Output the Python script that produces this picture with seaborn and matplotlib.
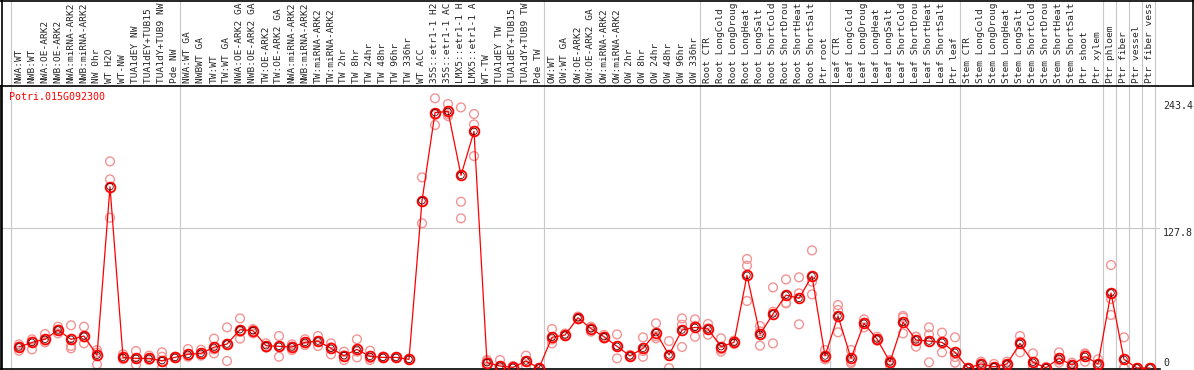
import numpy as np
import pandas as pd
import seaborn as sns
import matplotlib.pyplot as plt
from matplotlib.lines import Line2D

# sample names, left to right
categories = [
    "NWA:WT", "NWB:WT", "NWA:OE-ARK2", "NWB:OE-ARK2", "NWA:miRNA-ARK2", "NWB:miRNA-ARK2",
    "NW 0hr", "WT H2O", "WT-NW", "TUA1dEY NW", "TUA1dEY+TUB15 NW", "TUA1dY+TUB9 NW", "Pde NW",
    "NWA:WT GA", "NWBWT GA", "TW:WT", "TW:WT GA", "NWA:OE-ARK2 GA", "NWB:OE-ARK2 GA",
    "TW:OE-ARK2", "TW:OE-ARK2 GA", "NWA:miRNA-ARK2", "NWB:miRNA-ARK2", "TW:miRNA-ARK2", "TW:miRNA-ARK2",
    "TW 2hr", "TW 8hr", "TW 24hr", "TW 48hr", "TW 96hr", "TW 336hr", "WT ACC",
    "35S::etr1-1 H2O", "35S::etr1-1 ACC", "LMX5::etr1-1 H2O", "LMX5::etr1-1 ACC",
    "WT-TW", "TUA1dEY TW", "TUA1dEY+TUB15 TW", "TUA1dY+TUB9 TW", "Pde TW",
    "OW:WT", "OW:WT GA", "OW:OE-ARK2", "OW:OE-ARK2 GA", "OW:miRNA-ARK2", "OW:miRNA-ARK2",
    "OW 2hr", "OW 8hr", "OW 24hr", "OW 48hr", "OW 96hr", "OW 336hr",
    "Root CTR", "Root LongCold", "Root LongDrought", "Root LongHeat", "Root LongSalt",
    "Root ShortCold", "Root ShortDrought", "Root ShortHeat", "Root ShortSalt", "Ptr root",
    "Leaf CTR", "Leaf LongCold", "Leaf LongDrought", "Leaf LongHeat", "Leaf LongSalt",
    "Leaf ShortCold", "Leaf ShortDrought", "Leaf ShortHeat", "Leaf ShortSalt", "Ptr leaf",
    "Stem CTR", "Stem LongCold", "Stem LongDrought", "Stem LongHeat", "Stem LongSalt",
    "Stem ShortCold", "Stem ShortDrought", "Stem ShortHeat", "Stem ShortSalt", "Ptr shoot",
    "Ptr xylem", "Ptr phloem", "Ptr fiber", "Ptr vessel", "Ptr fiber vessel",
]

# mean expression per sample
means = [
    19.2, 23.4, 26.2, 34.7, 26.2, 29.2, 11.6, 165.5, 9.7, 8.8, 8.8, 6.7, 9.7,
    12.5, 13.4, 18.9, 21.9, 35.0, 34.1, 20.4, 19.8, 19.2, 23.4, 24.6, 18.0,
    11.3, 17.0, 10.6, 9.7, 9.7, 7.9, 152.7, 233.1, 234.3, 175.9, 216.0,
    4.9, 1.8, 0.6, 6.4, 0.0,
    28.0, 30.1, 45.9, 35.9, 28.6, 19.8, 11.0, 18.0, 32.3, 11.9, 34.7, 37.1,
    35.6, 19.5, 23.4, 84.6, 30.7, 49.3, 66.6, 63.6, 84.0, 11.0,
    47.5, 8.8, 40.8, 26.5, 5.5, 41.7, 25.6, 24.6, 23.4, 14.3,
    0.0, 3.7, 1.2, 3.7, 22.5, 5.2, 0.3, 8.8, 2.7, 10.6, 3.7,
    68.5, 7.9, 0.0, 0.0,
]

# individual replicates
rep_a = [
    21.6, 26.2, 31.0, 37.7, 39.0, 37.7, 16.4, 188.6, 12.5, 15.5, 11.3, 14.3, 10.3,
    17.3, 16.7, 26.8, 37.1, 45.3, 34.7, 22.5, 29.2, 21.6, 26.2, 29.2, 22.5,
    14.9, 26.2, 15.8, 10.5, 10.0, 8.5, 174.0, 246.2, 241.0, 237.9, 231.9,
    7.3, 7.3, 1.8, 11.3, 0.0,
    35.6, 31.5, 47.0, 37.7, 30.2, 30.7, 12.0, 28.0, 40.8, 24.6, 45.3, 44.4,
    40.2, 27.1, 25.0, 99.5, 38.3, 73.6, 80.9, 82.8, 107.4, 16.4,
    57.5, 16.4, 44.4, 28.5, 7.3, 47.5, 28.6, 37.1, 32.3, 28.0,
    0.0, 5.8, 3.7, 5.8, 29.2, 13.4, 1.0, 14.3, 4.9, 13.4, 7.9,
    94.0, 28.0, 0.0, 0.0,
]
rep_b = [
    15.8, 17.0, 23.4, 31.6, 20.1, 22.5, 3.3, 172.2, 8.8, 3.0, 7.3, 10.3, 9.5,
    10.3, 11.3, 13.4, 6.4, 26.8, 31.6, 18.6, 10.3, 16.4, 21.0, 20.1, 12.5,
    7.3, 9.7, 7.3, 9.0, 9.3, 7.5, 132.1, 221.8, 230.0, 151.8, 222.4,
    1.2, 0.0, 0.0, 1.8, 0.0,
    22.5, 29.0, 44.5, 33.2, 27.0, 8.8, 10.3, 10.3, 27.1, 0.0, 19.2, 28.6,
    30.4, 14.9, 22.0, 93.4, 20.4, 51.4, 59.6, 68.2, 78.8, 7.9,
    52.9, 5.8, 37.1, 25.0, 2.4, 31.6, 19.5, 30.7, 14.3, 4.9,
    0.0, 1.2, 0.0, 2.0, 14.3, 0.0, 0.0, 4.9, 0.0, 5.8, 0.0,
    63.0, 0.0, 0.0, 0.0,
]
rep_c = [
    19.5, 24.0, 25.0, 35.0, 18.0, 28.0, 14.0, 137.2, 8.0, 8.5, 8.0, 0.0, 9.0,
    11.0, 12.5, 17.0, 22.0, 33.0, 35.5, 20.0, 19.5, 19.5, 23.0, 24.5, 19.0,
    11.5, 15.0, 9.0, 9.5, 9.7, 7.8, 151.8, 231.0, 232.0, 136.6, 193.5,
    6.0, 0.0, 0.0, 6.0, 0.0,
    26.0, 30.0, 46.0, 36.5, 28.5, 20.0, 10.7, 15.5, 29.0, 11.0, 39.5, 38.5,
    36.0, 17.0, 23.2, 61.2, 33.5, 22.5, 59.0, 39.9, 67.2, 9.0,
    32.6, 4.5, 41.0, 26.0, 6.5, 46.0, 28.5, 5.2, 23.5, 10.0,
    0.0, 4.0, 0.0, 3.3, 24.0, 2.0, 0.0, 7.0, 3.0, 12.5, 3.0,
    48.4, 0.0, 0.0, 0.0,
]

# index of the first sample of each block (last = end)
group_starts = [0, 13, 41, 53, 63, 73, 84, 85, 86, 87, 88]
y_marks = [0, 127.8, 243.4]
gene = "Potri.015G092300"

sns.set_style("white")
plt.rcParams['font.family'] = ['DejaVu Sans Mono', 'DejaVu Sans']
FS = 6.8

W, H = 1194, 370
fig = plt.figure(figsize=(W / 100, H / 100), dpi=100)
ax = fig.add_axes([1 / W, 1 / H, 1159 / W, 283.5 / H])

n = len(categories)
df_mean = pd.DataFrame({"x": np.arange(n), "y": means})
df_rep = pd.DataFrame({"x": np.tile(np.arange(n), 3), "y": rep_a + rep_b + rep_c})

# grid / separators
ax.axhline(127.8, color="#c8c8c8", lw=0.8, zorder=0)
for g in group_starts:
    ax.axvline(g - 0.6, ymin=0, ymax=369 / 283.5, color="#c8c8c8", lw=0.8,
               zorder=0, clip_on=False)

sns.scatterplot(data=df_rep, x="x", y="y", marker="o", s=40,
                facecolor="none", edgecolor="#f29494", linewidth=1.0, ax=ax, zorder=2)
sns.lineplot(data=df_mean, x="x", y="y", estimator=None, sort=False, color="red",
             lw=0.9, marker="o", ms=7, mfc="none", mec="red", mew=1.3, ax=ax, zorder=3)
sns.scatterplot(data=df_mean, x="x", y="y", marker="o", s=22,
                facecolor="none", edgecolor="#400000", linewidth=0.55, ax=ax, zorder=4)

ax.set_xlim((1 - 19) / 13, (1160 - 19) / 13)
ax.set_ylim(-0.9, 257.9)

ax.xaxis.tick_top()
ax.set_xticks(np.arange(n))
ax.set_xticklabels([c[:14] for c in categories])
ax.tick_params(axis="x", length=0, pad=2, labelsize=FS, rotation=90)
ax.set_yticks([])
ax.set_xlabel("")
ax.set_ylabel("")

for s in ["top", "right"]:
    ax.spines[s].set_visible(False)
for s in ["left", "bottom"]:
    ax.spines[s].set_color("black")
    ax.spines[s].set_linewidth(1.2)

for v in y_marks:
    lbl = "0" if v == 0 else f"{v:.1f}"
    ax.text(1.0026, v, lbl, transform=ax.get_yaxis_transform(), fontsize=FS + 0.4,
            va="bottom" if v == 0 else "top", ha="left")

fig.text(9.5 / W, 1 - 92 / H, gene, color="red", fontsize=FS + 0.4, va="top", ha="left")

# header frame
yh = 1 - 85.5 / H
fig.add_artist(Line2D([0, 1], [yh, yh], color="black", lw=1.2))
fig.add_artist(Line2D([0, 1], [1 - 0.5 / H, 1 - 0.5 / H], color="black", lw=1.2))
fig.add_artist(Line2D([1.5 / W, 1.5 / W], [0, 1], color="black", lw=1.2))
fig.add_artist(Line2D([1 - 1.5 / W, 1 - 1.5 / W], [yh, 1], color="black", lw=1.2))

fig.savefig("out.png", dpi=100)
